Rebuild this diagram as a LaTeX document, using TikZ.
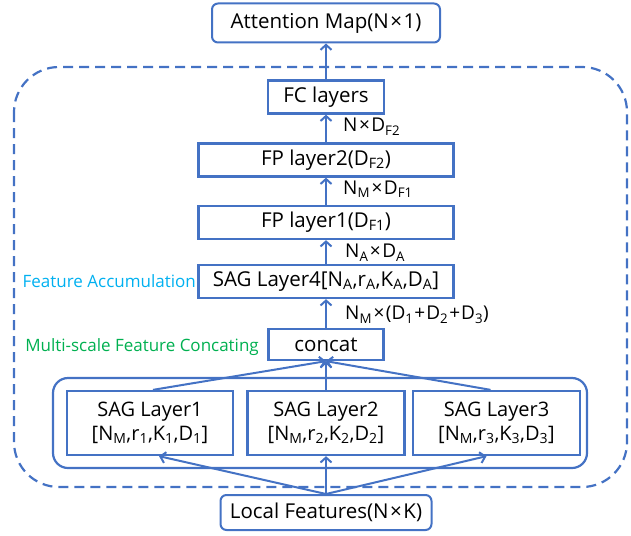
\documentclass[tikz,border=0pt]{standalone}
\usepackage{fontspec}
\setmainfont{Open Sans}
\usepackage{tikz}
\usetikzlibrary{calc,arrows.meta}
\definecolor{lblue}{RGB}{68,114,196}
\definecolor{acccyan}{RGB}{0,176,240}
\definecolor{catgreen}{RGB}{0,176,80}
\newcommand{\lsub}[1]{\textsubscript{#1}}
\newcommand{\tms}{\kern1.5pt×\kern1.5pt}
\tikzset{
  layerbox/.style={draw=lblue,line width=2.3pt,minimum height=33pt,inner sep=0pt,font=\fontsize{20.5}{23}\selectfont},
  endbox/.style={layerbox,rounded corners=6pt,line width=2pt,minimum height=39pt},
  sagbox/.style={layerbox,minimum height=64pt,align=center,font=\fontsize{20}{24}\selectfont},
  dimlabel/.style={anchor=west,inner sep=0pt,font=\fontsize{19}{21}\selectfont},
  flow/.style={draw=lblue,line width=2pt,-{Straight Barb[length=5pt,width=11pt]}}
}
\begin{document}
\begin{tikzpicture}[x=1pt,y=-1pt]
\useasboundingbox (0,0) rectangle (631,535);
% frames
\draw[lblue,line width=2.2pt,dash pattern=on 10pt off 6pt,rounded corners=45pt] (14,67) rectangle (627,487);
\draw[lblue,line width=2.2pt,rounded corners=15pt] (53,378) rectangle (587,468);
% layers
\node[endbox,minimum width=228pt](att)at(326,23){Attention Map(N\tms1)};
\node[layerbox,minimum width=116pt](fc)at(326,97){FC layers};
\node[layerbox,minimum width=255pt](fp2)at(326,160){FP layer2(D\lsub{F2})};
\node[layerbox,minimum width=255pt](fp1)at(326,222.5){FP layer1(D\lsub{F1})};
\node[layerbox,minimum width=255pt](sag4)at(326,281.5){SAG Layer4[N\lsub{A},r\lsub{A},K\lsub{A},D\lsub{A}]};
\node[layerbox,minimum width=115pt,minimum height=31pt](cat)at(326,344.5){concat};
\node[sagbox,minimum width=166pt](sag1)at(150,423){SAG Layer1\\{}[N\lsub{M},r\lsub{1},K\lsub{1},D\lsub{1}]};
\node[sagbox,minimum width=157pt](sag2)at(326,423){SAG Layer2\\{}[N\lsub{M},r\lsub{2},K\lsub{2},D\lsub{2}]};
\node[sagbox,minimum width=167pt](sag3)at(496.5,423){SAG Layer3\\{}[N\lsub{M},r\lsub{3},K\lsub{3},D\lsub{3}]};
\node[endbox,minimum width=211pt,minimum height=35pt](loc)at(326,512.5){Local Features(N\tms K)};
% side notes
\node[anchor=east,inner sep=0pt,text=acccyan,font=\fontsize{17}{19}\selectfont](acc)at(196,281){Feature Accumulation};
\node[anchor=east,inner sep=0pt,text=catgreen,font=\fontsize{17}{19}\selectfont](ms)at(259,347){Multi-scale Feature Concating};
% dimensions
\node[dimlabel](d1)at(343,127){N\tms D\lsub{F2}};
\node[dimlabel](d2)at(343,189){N\lsub{M}\tms D\lsub{F1}};
\node[dimlabel](d3)at(345,253){N\lsub{A}\tms D\lsub{A}};
\node[dimlabel](d4)at(345,315){N\lsub{M}\tms(D\lsub{1}\kern1pt+\kern1pt D\lsub{2}\kern1pt+\kern1pt D\lsub{3})};
% arrows
\draw[flow](fc)--(att);
\draw[flow](fp2)--(fc);
\draw[flow](fp1)--(fp2);
\draw[flow](sag4)--(fp1);
\draw[flow](cat)--(sag4);
\foreach \s/\t/\b in {sag1/3/9,sag2/0/0,sag3/-6/-10}{
  \draw[flow]($(\s.north)+(\t,0)$)--(cat.south);
  \draw[flow](loc.north)--($(\s.south)+(\b,0)$);
}
\end{tikzpicture}
\end{document}
